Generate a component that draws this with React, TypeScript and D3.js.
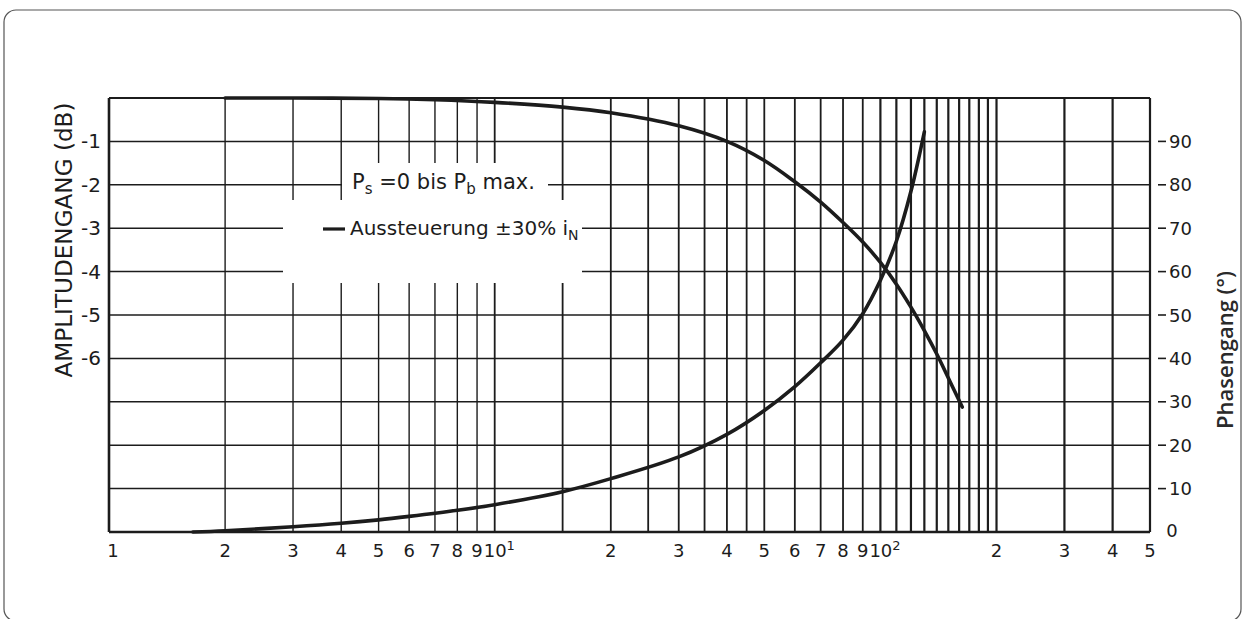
import React from 'react';
import * as d3 from 'd3';

const W = 1245;
const H = 619;

// vertical grid lines (frequency)
const gridFreqs = [2, 3, 4, 5, 6, 7, 8, 9, 10, 15, 20, 25, 30, 35, 40, 45, 50, 60, 70, 80, 90, 100, 110, 120, 130, 140, 150, 160, 170, 180, 190, 200, 300, 400];
// bottom tick labels
const labelFreqs = [1, 2, 3, 4, 5, 6, 7, 8, 9, 10, 20, 30, 40, 50, 60, 70, 80, 90, 100, 200, 300, 400, 500];
const labelTexts = ['1', '2', '3', '4', '5', '6', '7', '8', '9', '10¹', '2', '3', '4', '5', '6', '7', '8', '9', '10²', '2', '3', '4', '5'];
// left axis (dB)
const dbTicks = [-1, -2, -3, -4, -5, -6];
const dbGrid = [-1, -2, -3, -4, -5, -6, -7, -8, -9];
// right axis (phase)
const phaseTicks = [10, 20, 30, 40, 50, 60, 70, 80, 90];

// amplitude curve
const ampFreq = [2, 3, 5, 7, 10, 15, 20, 30, 40, 50, 60, 70, 80, 90, 100, 110, 120, 130, 140, 150, 163];
const ampDb = [0, 0, -0.01, -0.04, -0.1, -0.21, -0.34, -0.64, -1.0, -1.44, -1.93, -2.4, -2.87, -3.32, -3.79, -4.29, -4.82, -5.36, -5.9, -6.45, -7.12];

// phase curve
const phFreq = [1.65, 2, 3, 4, 5, 6, 8, 10, 15, 20, 30, 40, 50, 60, 70, 80, 90, 100, 110, 120, 130];
const phDeg = [0, 0.3, 1.2, 2.0, 2.8, 3.6, 5.0, 6.3, 9.3, 12.3, 17.3, 22.5, 28, 33.5, 39, 44.2, 50.3, 58, 67, 78.5, 92.2];

const INK = '#1c1c1c';
const FONT = "'DejaVu Sans', 'Liberation Sans', sans-serif";

export default function App() {
  const x = d3.scaleLog().domain([1, 500]).range([109, 1150]);
  const yDb = d3.scaleLinear().domain([0, -10]).range([98, 532]);
  const yPh = d3.scaleLinear().domain([0, 100]).range([532, 98]);

  const ampLine = d3
    .line<number>()
    .x((_, i) => x(ampFreq[i]))
    .y((d) => yDb(d))
    .curve(d3.curveCatmullRom.alpha(0.5));
  const phLine = d3
    .line<number>()
    .x((_, i) => x(phFreq[i]))
    .y((d) => yPh(d))
    .curve(d3.curveCatmullRom.alpha(0.5));

  const left = x(1);
  const right = x(500);
  const top = yDb(0);
  const bottom = yDb(-10);

  const vWidth = (f: number) => (f < 10 ? 1.4 : f < 100 ? 1.8 : 2.2);

  return (
    <svg width={W} height={H} style={{ position: 'absolute', left: 0, top: 0, background: '#fff' }}>
      <rect x={4} y={10} width={1237} height={611} rx={12} ry={12} fill="#fff" stroke="#555" strokeWidth={1.2} />

      {/* horizontal grid */}
      {dbGrid.map((d) => (
        <line key={'h' + d} x1={left} x2={right} y1={yDb(d)} y2={yDb(d)} stroke={INK} strokeWidth={1.5} />
      ))}
      {/* vertical grid */}
      {gridFreqs.map((f) => (
        <line key={'v' + f} x1={x(f)} x2={x(f)} y1={top} y2={bottom} stroke={INK} strokeWidth={vWidth(f)} />
      ))}

      {/* legend background boxes */}
      <rect x={342} y={163} width={206} height={37} fill="#fff" />
      <rect x={283} y={200} width={299} height={83} fill="#fff" />

      {/* frame */}
      <line x1={left} x2={right} y1={top} y2={top} stroke={INK} strokeWidth={2} />
      <line x1={left} x2={right} y1={bottom} y2={bottom} stroke={INK} strokeWidth={2.6} />
      <line x1={left} x2={left} y1={top} y2={bottom} stroke={INK} strokeWidth={2.6} />
      <line x1={right} x2={right} y1={top} y2={bottom} stroke={INK} strokeWidth={2.2} />

      {/* curves */}
      <path d={ampLine(ampDb) || ''} fill="none" stroke={INK} strokeWidth={3.6} strokeLinecap="round" />
      <path d={phLine(phDeg) || ''} fill="none" stroke={INK} strokeWidth={3.6} strokeLinecap="round" />

      {/* left tick labels */}
      {dbTicks.map((d) => (
        <text key={'dl' + d} x={101} y={yDb(d) + 7} fontFamily={FONT} fontSize={20} fill={INK} textAnchor="end">
          {'-' + Math.abs(d)}
        </text>
      ))}

      {/* right ticks and labels */}
      {phaseTicks.map((p) => (
        <g key={'pr' + p}>
          <line x1={1158} x2={1166} y1={yPh(p)} y2={yPh(p)} stroke={INK} strokeWidth={1.6} />
          <text x={1169} y={yPh(p) + 6.5} fontFamily={FONT} fontSize={18} fill={INK}>
            {p}
          </text>
        </g>
      ))}
      <text x={1172} y={537} fontFamily={FONT} fontSize={18} fill={INK} textAnchor="middle">
        0
      </text>

      {/* bottom labels */}
      {labelFreqs.map((f, i) => {
        const t = labelTexts[i];
        const px = x(f) + (f === 1 ? 4 : 0);
        if (t.startsWith('10')) {
          return (
            <text key={'bl' + i} x={px - 11} y={557} fontFamily={FONT} fontSize={18} fill={INK}>
              10
              <tspan fontSize={13} dy={-7}>
                {t === '10¹' ? '1' : '2'}
              </tspan>
            </text>
          );
        }
        return (
          <text key={'bl' + i} x={px} y={557} fontFamily={FONT} fontSize={18} fill={INK} textAnchor="middle">
            {t}
          </text>
        );
      })}

      {/* legend */}
      <text x={352} y={189} fontFamily={FONT} fontSize={21} fill={INK}>
        P<tspan fontSize={15} dy={5}>s</tspan>
        <tspan dy={-5}> =0 bis P</tspan>
        <tspan fontSize={15} dy={5}>b</tspan>
        <tspan dy={-5}> max.</tspan>
      </text>
      <line x1={323} x2={345} y1={229} y2={229} stroke={INK} strokeWidth={3.2} />
      <text x={350} y={235} fontFamily={FONT} fontSize={20} fill={INK}>
        Aussteuerung ±30% i<tspan fontSize={14} dy={5}>N</tspan>
      </text>

      {/* axis titles */}
      <text
        transform="translate(72,240) rotate(-90)"
        textAnchor="middle"
        fontFamily={FONT}
        fontSize={23}
        fill={INK}
        textLength={275}
        lengthAdjust="spacingAndGlyphs"
      >
        AMPLITUDENGANG (dB)
      </text>
      <text
        transform="translate(1233,350) rotate(-90)"
        textAnchor="middle"
        fontFamily="'Open Sans', 'Noto Sans', sans-serif"
        fontWeight={600}
        fontSize={22}
        fill="#2a2a2a"
      >
        Phasengang (°)
      </text>
    </svg>
  );
}
